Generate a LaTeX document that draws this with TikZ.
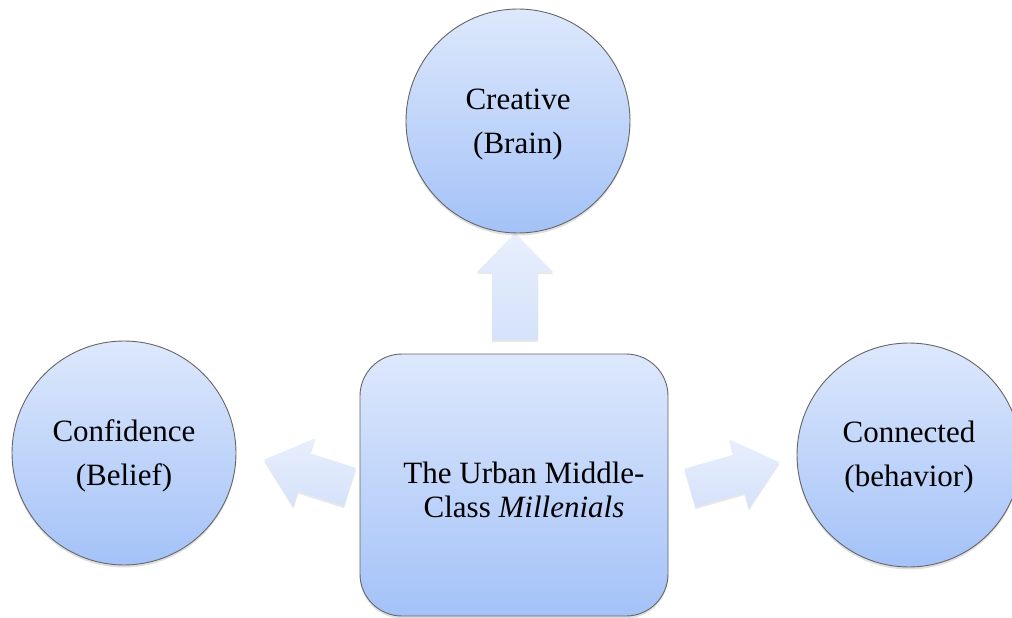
\documentclass[tikz,border=0pt]{standalone}
\usepackage{fontspec}
\setmainfont{Liberation Serif}
\usetikzlibrary{shadows}
\definecolor{topblue}{HTML}{DDE8FC}
\definecolor{botblue}{HTML}{A4C2F8}
\definecolor{arrtop}{HTML}{E8EFFD}
\definecolor{arrbot}{HTML}{D5E2FA}
\definecolor{edgegray}{HTML}{666666}
\tikzset{
  bubble/.style={circle, draw=edgegray, line width=0.9pt, minimum size=224pt, inner sep=0pt,
    top color=topblue, bottom color=botblue,
    drop shadow={opacity=0.25, shadow xshift=0pt, shadow yshift=-2.5pt}},
  bubbletext/.style={align=center, font=\fontsize{31}{44}\selectfont, inner sep=0pt},
  hubbox/.style={rectangle, rounded corners=42pt, draw=edgegray, line width=0.9pt,
    minimum width=308pt, minimum height=262pt, inner sep=0pt,
    top color=topblue, bottom color=botblue,
    drop shadow={opacity=0.25, shadow xshift=0pt, shadow yshift=-2.5pt}},
  hubtext/.style={align=center, font=\fontsize{31}{34}\selectfont, inner sep=0pt},
  blockarr/.style={top color=arrtop, bottom color=arrbot,
    drop shadow={opacity=0.18, shadow xshift=0pt, shadow yshift=-2pt}}
}
\begin{document}
\begin{tikzpicture}[x=1pt,y=-1pt]
\useasboundingbox (0,0) rectangle (1012,618);
% block arrows
\path[blockarr] (492,340) -- (492,272) -- (477,272) -- (515,233) -- (553,272) -- (538,272) -- (538,340) -- cycle;
\path[blockarr] (356.0,467.9) -- (310.3,453.4) -- (315.1,438.2) -- (264.2,459.8) -- (293.4,506.8) -- (298.2,491.6) -- (344.0,506.1) -- cycle;
\path[blockarr] (684.5,468.8) -- (733.5,454.7) -- (729.1,439.3) -- (779.4,462.3) -- (748.9,508.5) -- (744.5,493.1) -- (695.5,507.2) -- cycle;
% nodes
\node[bubble, label={[bubbletext, name=creativetxt, yshift=-4pt]center:Creative\\(Brain)}] (creative) at (518,121) {};
\node[bubble, label={[bubbletext, name=confidencetxt, yshift=-3pt]center:Confidence\\(Belief)}] (confidence) at (124,453) {};
\node[bubble, label={[bubbletext, name=connectedtxt, yshift=-2pt]center:Connected\\(behavior)}] (connected) at (909,455) {};
\node[hubbox] (hub) at (514,485) {};
\node[hubtext] (hubtxt) at (524,490) {The Urban Middle-\\Class \textit{Millenials}};
\end{tikzpicture}
\end{document}
